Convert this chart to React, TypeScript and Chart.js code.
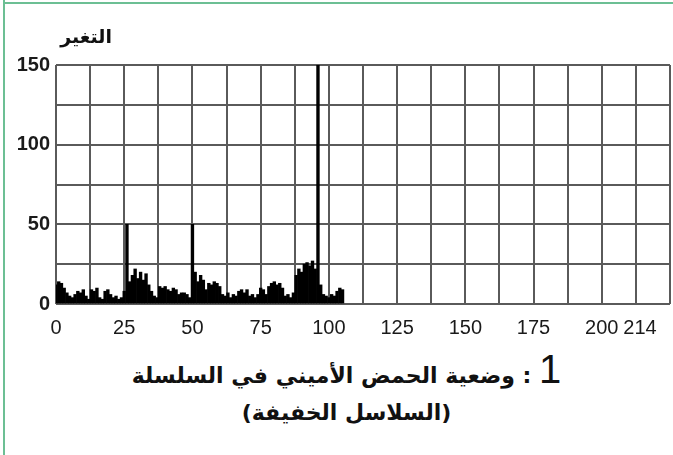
import React, { useEffect, useRef } from "react";
import { Chart, registerables } from "chart.js";

Chart.register(...registerables);

// Variability per amino-acid position
const VARIABILITY: number[] = [
  12, 14, 13, 10, 7, 5, 4, 6, 8, 7,
  9, 5, 3, 9, 8, 10, 4, 3, 8, 9,
  6, 4, 5, 3, 4, 8, 50, 14, 18, 22,
  16, 20, 15, 19, 12, 8, 5, 4, 11, 10,
  11, 9, 8, 10, 9, 6, 7, 7, 6, 4,
  50, 20, 14, 18, 15, 9, 13, 12, 14, 13,
  11, 6, 5, 7, 4, 6, 5, 8, 9, 7,
  9, 5, 6, 4, 6, 10, 9, 6, 11, 13,
  14, 12, 13, 10, 5, 6, 4, 7, 18, 22,
  20, 25, 26, 24, 27, 22, 150, 12, 6, 5,
  4, 6, 5, 8, 10, 9,
];

const X_TICK_LABELS: number[] = [0, 25, 50, 75, 100, 125, 150, 175, 200, 214];
const Y_TICK_LABELS: number[] = [0, 50, 100, 150];

const X_MAX = 225;
const X_GRID_STEP = 12.5;
const Y_MAX = 150;
const Y_GRID_STEP = 25;

const Y_TITLE = "التغير";
const CAPTION_NUM = "1";
const CAPTION_LINE1 = ": وضعية الحمض الأميني في السلسلة";
const CAPTION_LINE2 = "(السلاسل الخفيفة)";

const GRID_COLOR = "#5a5a5a";
const TICK_FONT = "'Liberation Sans Narrow', 'Liberation Sans', Arial, sans-serif";

export default function App() {
  const canvasRef = useRef<HTMLCanvasElement | null>(null);

  useEffect(() => {
    if (!canvasRef.current) return;
    const gridX: number[] = [];
    for (let v = 0; v <= X_MAX + 1e-9; v += X_GRID_STEP) gridX.push(v);
    const xTicks = Array.from(new Set([...gridX, ...X_TICK_LABELS])).sort((a, b) => a - b);
    const yTicks: number[] = [];
    for (let v = 0; v <= Y_MAX; v += Y_GRID_STEP) yTicks.push(v);

    const chart = new Chart(canvasRef.current, {
      type: "bar",
      data: {
        datasets: [
          {
            data: VARIABILITY.map((v, i) => ({ x: i, y: v })),
            backgroundColor: "#000000",
            borderWidth: 0,
            barPercentage: 1,
            categoryPercentage: 1,
          } as any,
        ],
      },
      options: {
        animation: false,
        responsive: false,
        devicePixelRatio: 1,
        layout: { padding: { top: 65, right: 0, left: 0, bottom: 0 } },
        plugins: { legend: { display: false }, tooltip: { enabled: false } },
        scales: {
          x: {
            type: "linear",
            min: 0,
            max: X_MAX,
            offset: false,
            afterBuildTicks: (s: any) => {
              s.ticks = xTicks.map((v) => ({ value: v }));
            },
            afterFit: (s: any) => {
              s.height = 36;
            },
            grid: {
              offset: false,
              drawTicks: false,
              lineWidth: 2,
              color: (ctx: any) =>
                ctx.tick && gridX.indexOf(ctx.tick.value) === -1 ? "rgba(0,0,0,0)" : GRID_COLOR,
            },
            border: { display: false },
            ticks: {
              autoSkip: false,
              maxRotation: 0,
              padding: 12,
              color: "#1a1a1a",
              font: { family: TICK_FONT, size: 20 },
              callback: (v: any) => (X_TICK_LABELS.indexOf(Number(v)) !== -1 ? String(v) : ""),
            },
          },
          y: {
            min: 0,
            max: Y_MAX,
            afterBuildTicks: (s: any) => {
              s.ticks = yTicks.map((v) => ({ value: v }));
            },
            afterFit: (s: any) => {
              s.width = 56;
            },
            grid: { drawTicks: false, lineWidth: 2, color: GRID_COLOR },
            border: { display: false },
            ticks: {
              padding: 6,
              color: "#1a1a1a",
              font: { family: TICK_FONT, size: 20, weight: "bold" },
              callback: (v: any) => (Y_TICK_LABELS.indexOf(Number(v)) !== -1 ? String(v) : ""),
            },
          },
        },
      },
    });
    return () => chart.destroy();
  }, []);

  return (
    <div
      style={{
        position: "absolute",
        left: 0,
        top: 0,
        width: 673,
        height: 455,
        background: "#ffffff",
        overflow: "hidden",
      }}
    >
      <div style={{ position: "absolute", left: 3, top: 0, width: 2, height: 455, background: "#6cbf94" }} />
      <div style={{ position: "absolute", left: 3, top: 2, width: 670, height: 2, background: "#6cbf94" }} />
      <canvas ref={canvasRef} width={682} height={340} style={{ position: "absolute", left: 0, top: 0 }} />
      <div
        dir="rtl"
        style={{
          position: "absolute",
          left: 50,
          top: 25,
          width: 62,
          textAlign: "right",
          fontFamily: "'DejaVu Sans', sans-serif",
          fontWeight: "bold",
          fontSize: 19,
          color: "#111",
        }}
      >
        {Y_TITLE}
      </div>
      <div
        dir="rtl"
        style={{
          position: "absolute",
          left: 20,
          top: 348,
          width: 653,
          textAlign: "center",
          fontFamily: "'DejaVu Sans', sans-serif",
          fontWeight: "bold",
          color: "#111",
          lineHeight: "42px",
        }}
      >
        <div style={{ fontSize: 22 }}>
          <span style={{ fontFamily: "'Liberation Sans', Arial, sans-serif", fontWeight: "normal", fontSize: 40 }}>
            {CAPTION_NUM}
          </span>{" "}
          {CAPTION_LINE1}
        </div>
        <div style={{ fontSize: 22, lineHeight: "32px" }}>{CAPTION_LINE2}</div>
      </div>
    </div>
  );
}
